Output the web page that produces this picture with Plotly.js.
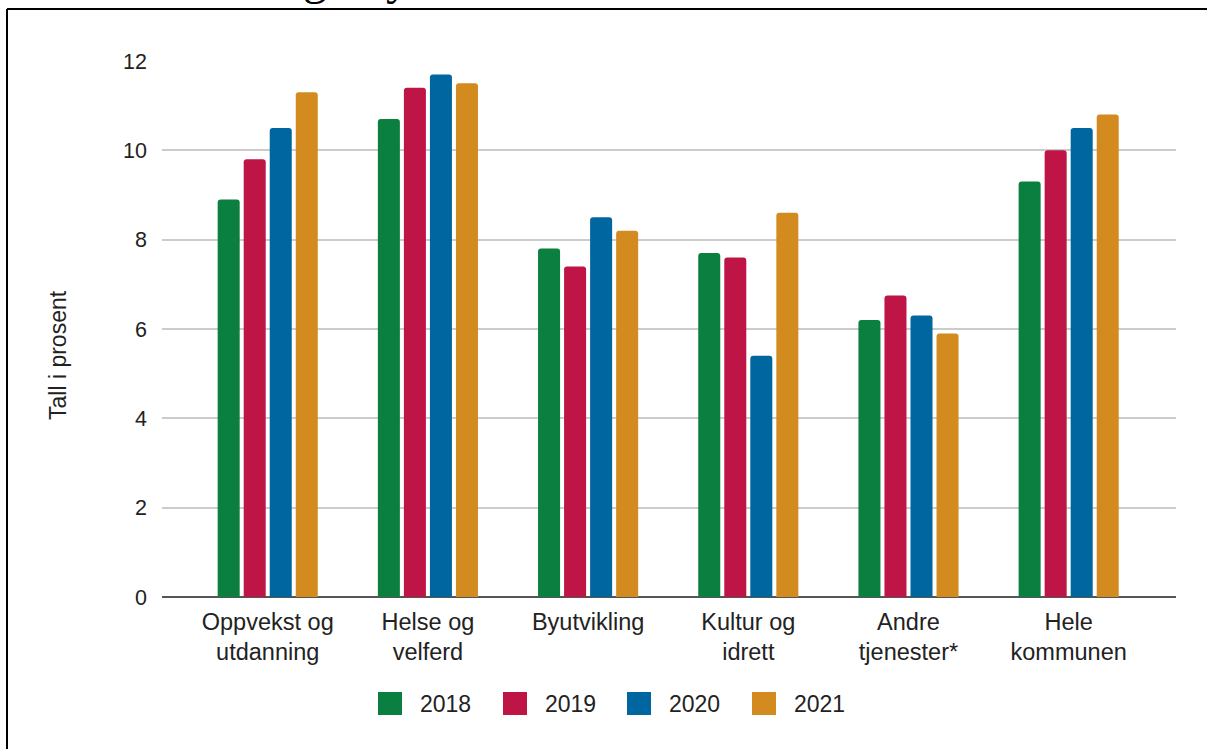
<!DOCTYPE html>
<html>
<head>
<meta charset="utf-8">
<script src="https://cdn.plot.ly/plotly-3.0.1.min.js"></script>
<style>
html,body{margin:0;padding:0;background:#fff;}
#chart{width:1207px;height:749px;}
</style>
</head>
<body>
<div id="chart"></div>
<script>
const categories = ["Oppvekst og<br>utdanning", "Helse og<br>velferd", "Byutvikling", "Kultur og<br>idrett", "Andre<br>tjenester*", "Hele<br>kommunen"];
const seriesNames = ["2018", "2019", "2020", "2021"];
const v2018 = [8.9, 10.7, 7.8, 7.7, 6.2, 9.3];
const v2019 = [9.8, 11.4, 7.4, 7.6, 6.75, 10.0];
const v2020 = [10.5, 11.7, 8.5, 5.4, 6.3, 10.5];
const v2021 = [11.3, 11.5, 8.2, 8.6, 5.9, 10.8];
const yTicks = [0, 2, 4, 6, 8, 10, 12];
const yTitle = "Tall i prosent";

const colors = ["#0b7f3f", "#be1446", "#0066a0", "#d38b1f"];
const values = [v2018, v2019, v2020, v2021];
const font = "Liberation Sans, Arial, sans-serif";

// plot area in px
const L = 162, R = 1176, T = 61, B = 597, W = 1207, H = 749;
const px = x => (x - L) / (R - L);
const py = y => (B - y) / (B - T);

const traces = seriesNames.map((n, i) => ({
  type: "bar",
  name: n,
  x: categories,
  y: values[i],
  marker: {color: colors[i], line: {width: 0}},
  hoverinfo: "x+y+name"
}));

const shapes = [
  // page border (top and left)
  {type: "line", xref: "paper", yref: "paper", x0: px(7), x1: px(W + 5), y0: py(9), y1: py(9), line: {color: "#000", width: 2}},
  {type: "line", xref: "paper", yref: "paper", x0: px(7), x1: px(7), y0: py(9), y1: py(H + 5), line: {color: "#000", width: 2}}
];
const annotations = [
  {xref: "paper", yref: "paper", x: px(58), y: py(355), text: yTitle, textangle: -90, showarrow: false,
   font: {family: font, size: 23, color: "#222"}, xanchor: "center", yanchor: "middle"}
];
// custom legend
const swX = [378, 503, 627, 752];
seriesNames.forEach((n, i) => {
  shapes.push({type: "rect", xref: "paper", yref: "paper", x0: px(swX[i]), x1: px(swX[i] + 24),
    y0: py(715), y1: py(692), fillcolor: colors[i], line: {width: 0}});
  annotations.push({xref: "paper", yref: "paper", x: px(swX[i] + 40), y: py(704), text: n, showarrow: false,
    xanchor: "left", yanchor: "middle", font: {family: font, size: 23, color: "#222"}});
});
// cut-off heading glyphs at the very top
annotations.push({xref: "paper", yref: "paper", x: px(315), y: py(6), text: "g", showarrow: false,
  xanchor: "center", yanchor: "bottom", font: {family: "Liberation Serif, serif", size: 48, color: "#000"}});
annotations.push({xref: "paper", yref: "paper", x: px(398), y: py(6), text: "y", showarrow: false,
  xanchor: "center", yanchor: "bottom", font: {family: "Liberation Serif, serif", size: 48, color: "#000"}});

const layout = {
  width: W, height: H,
  margin: {l: L, r: W - R, t: T, b: H - B, pad: 0},
  paper_bgcolor: "#fff", plot_bgcolor: "#fff",
  barmode: "group", bargap: 0.35, bargroupgap: 0.154, barcornerradius: 3,
  showlegend: false,
  font: {family: font, color: "#222"},
  xaxis: {
    type: "category", range: [-0.66, 5.67], showgrid: false, zeroline: false,
    showline: false, ticks: "", ticklabelstandoff: 8, tickfont: {family: font, size: 23.5, color: "#222"}, fixedrange: true
  },
  yaxis: {
    range: [0, 12], tickvals: yTicks, ticktext: yTicks.map(String), showgrid: true, gridcolor: "#cccccc", gridwidth: 2,
    zeroline: true, zerolinecolor: "#555", zerolinewidth: 2, showline: false, ticks: "",
    ticklabelstandoff: 14, tickfont: {family: font, size: 21.5, color: "#222"}, fixedrange: true
  },
  shapes: shapes,
  annotations: annotations
};
Plotly.newPlot("chart", traces, layout, {displayModeBar: false, staticPlot: true});
</script>
</body>
</html>
